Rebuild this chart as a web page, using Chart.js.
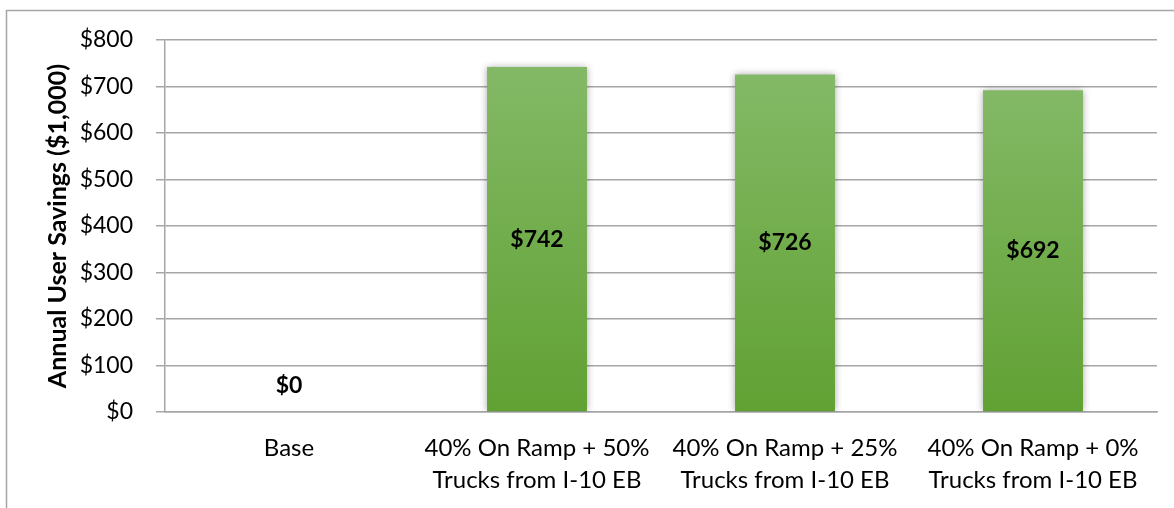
<!DOCTYPE html>
<html>
<head>
<meta charset="utf-8">
<script src="https://cdn.jsdelivr.net/npm/chart.js@4/dist/chart.umd.min.js"></script>
<style>
    html, body { margin: 0; padding: 0; background: #fff; }
    #wrap { width: 1174px; height: 508px; position: relative; }
</style>
</head>
<body>
<div id="wrap"><canvas id="savings-chart"></canvas></div>
<script>
const scenarios = [
    'Base',
    ['40% On Ramp + 50%', 'Trucks from I-10 EB'],
    ['40% On Ramp + 25%', 'Trucks from I-10 EB'],
    ['40% On Ramp + 0%', 'Trucks from I-10 EB']
];
const savings = [0, 742, 726, 692];
const yTicks = [0, 100, 200, 300, 400, 500, 600, 700, 800];

const FONT = 'Lato, Calibri, "Noto Sans", sans-serif';

// chart frame, only top and left edges fall inside the canvas
const framePlugin = {
    id: 'frame',
    beforeDraw(chart) {
        const ctx = chart.ctx;
        ctx.save();
        ctx.strokeStyle = '#a6a6a6';
        ctx.lineWidth = 1.5;
        ctx.beginPath();
        ctx.moveTo(6.5, chart.height + 2);
        ctx.lineTo(6.5, 10.5);
        ctx.lineTo(chart.width + 2, 10.5);
        ctx.stroke();
        ctx.restore();
    }
};

// soft shadow round the bars
const shadowPlugin = {
    id: 'barShadow',
    beforeDatasetDraw(chart) {
        const ctx = chart.ctx;
        ctx.save();
        ctx.shadowColor = 'rgba(0,0,0,0.35)';
        ctx.shadowBlur = 7;
        ctx.shadowOffsetX = 0;
        ctx.shadowOffsetY = 0;
    },
    afterDatasetDraw(chart) {
        chart.ctx.restore();
    }
};

// value labels in the middle of each bar
const valueLabels = {
    id: 'valueLabels',
    afterDatasetsDraw(chart) {
        const ctx = chart.ctx;
        const meta = chart.getDatasetMeta(0);
        ctx.save();
        ctx.font = 'bold 23px ' + FONT;
        ctx.fillStyle = '#000';
        ctx.textAlign = 'center';
        ctx.textBaseline = 'middle';
        meta.data.forEach((bar, i) => {
            const v = chart.data.datasets[0].data[i];
            let y = (bar.y + bar.base) / 2;
            if (bar.base - bar.y < 40) y = bar.base - 26;
            ctx.fillText('$' + v, bar.x, y);
        });
        ctx.restore();
    }
};

function barFill(context) {
    const chart = context.chart;
    const area = chart.chartArea;
    if (!area) return '#72ad4b';
    const v = context.parsed ? context.parsed.y : 0;
    const top = chart.scales.y.getPixelForValue(v);
    const bottom = chart.scales.y.getPixelForValue(0);
    if (bottom - top < 1) return '#72ad4b';
    const g = chart.ctx.createLinearGradient(0, top, 0, bottom);
    g.addColorStop(0, '#83b966');
    g.addColorStop(1, '#61a133');
    return g;
}

const savingsChart = new Chart(document.getElementById('savings-chart'), {
    type: 'bar',
    data: {
        labels: scenarios,
        datasets: [{
            data: savings,
            backgroundColor: barFill,
            borderWidth: 0,
            barPercentage: 0.403,
            categoryPercentage: 1
        }]
    },
    options: {
        responsive: true,
        maintainAspectRatio: false,
        animation: false,
        layout: { padding: { top: 40, right: 17, left: 0, bottom: 0 } },
        plugins: {
            legend: { display: false },
            tooltip: { enabled: false }
        },
        scales: {
            x: {
                grid: { display: false, drawTicks: false },
                border: { display: true, color: '#a6a6a6', width: 1.5 },
                ticks: {
                    color: '#000',
                    padding: 20,
                    maxRotation: 0,
                    autoSkip: false,
                    font: { family: FONT, size: 24, lineHeight: 1.333 }
                },
                afterFit(scale) { scale.height = 96; }
            },
            y: {
                min: 0,
                max: 800,
                afterBuildTicks(scale) {
                    scale.ticks = yTicks.map(v => ({ value: v }));
                },
                grid: { color: '#a6a6a6', lineWidth: 1.5, tickLength: 9 },
                border: { display: true, color: '#a6a6a6', width: 1.5 },
                ticks: {
                    color: '#000',
                    padding: 23,
                    font: { family: FONT, size: 23 },
                    callback: v => '$' + v
                },
                title: {
                    display: true,
                    text: 'Annual User Savings ($1,000)',
                    color: '#000',
                    padding: { top: 43, bottom: 0 },
                    font: { family: FONT, size: 25, weight: 'bold', lineHeight: 1.2 }
                },
                afterFit(scale) { scale.width = 165; }
            }
        }
    },
    plugins: [framePlugin, shadowPlugin, valueLabels]
});
</script>
</body>
</html>
